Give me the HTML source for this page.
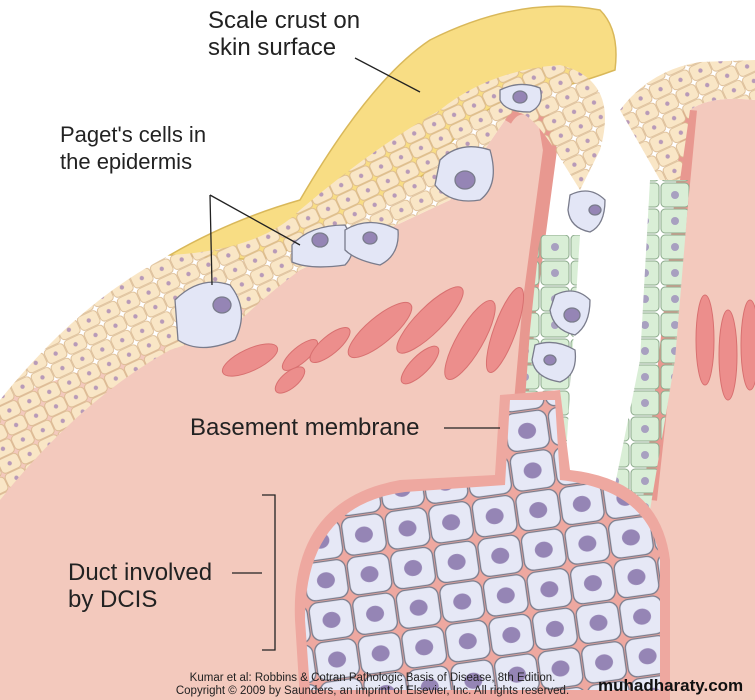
<!DOCTYPE html>
<html><head><style>
body{margin:0;background:#fff;width:755px;height:700px;overflow:hidden;font-family:"Liberation Sans",sans-serif}
.t{position:absolute;font-size:24px;color:#222;line-height:27px}
</style></head><body>
<svg width="755" height="700" style="position:absolute;left:0;top:0">
<defs>
<pattern id="cells" width="44" height="40" patternUnits="userSpaceOnUse" patternTransform="rotate(-8)">
<rect x="1" y="1" width="42" height="38" rx="9" fill="#e6e8f6" stroke="#7a7c8c" stroke-width="1.3"/>
<ellipse cx="22" cy="20" rx="9" ry="8" fill="#9585b5"/>
</pattern>
<pattern id="epi" width="22" height="16" patternUnits="userSpaceOnUse" patternTransform="rotate(-25)">
<rect x="0.5" y="0.5" width="21" height="15" rx="4" fill="#f9e6c6" stroke="#d8b68c" stroke-width="0.8"/>
<circle cx="11" cy="8" r="2.2" fill="#b89ab8"/>
</pattern>
<pattern id="grn" width="30" height="26" patternUnits="userSpaceOnUse">
<rect x="1" y="1" width="28" height="24" rx="4" fill="#d9eed6" stroke="#8aa88a" stroke-width="1"/>
<circle cx="15" cy="13" r="4" fill="#a8a0c0"/>
</pattern>
</defs>
<path d="M0 400 L170 340 L300 270 L450 200 L505 120 Q520 95 545 120 L550 150 L530 300 L515 470 L505 700 L0 700Z" fill="#f3c9bd"/>
<path d="M505 120 Q520 95 545 120 L550 150 L530 300 L515 470 L500 520" fill="none" stroke="#e89890" stroke-width="14"/>
<path d="M690 110 Q710 95 755 100 L755 700 L650 700 L650 500 L672 300 Z" fill="#f3c9bd"/>
<path d="M690 110 L672 300 L650 500" fill="none" stroke="#e89890" stroke-width="14"/>
<path d="M170 255 Q230 220 300 200 Q370 80 430 40 Q520 -5 600 10 Q620 30 615 70 Q560 90 520 95 Q470 110 430 170 Q350 230 260 260 Z" fill="#f8dd84" stroke="#d9b85a" stroke-width="1.5"/>
<path d="M0 400 Q80 300 170 255 Q260 250 300 210 Q370 150 440 110 Q490 70 560 65 Q620 80 600 150 L580 190 L555 150 Q520 95 505 120 L450 200 L300 270 Q260 300 230 330 L170 350 Q80 400 0 500 Z" fill="url(#epi)"/>
<path d="M620 110 Q650 70 700 62 L755 60 L755 100 Q710 95 690 110 L680 180 L660 180 Z" fill="url(#epi)"/>
<g fill="#ec8e8c" stroke="#d87070" stroke-width="1">
<ellipse cx="250" cy="360" rx="30" ry="11" transform="rotate(-25 250 360)"/>
<ellipse cx="300" cy="355" rx="22" ry="8" transform="rotate(-40 300 355)"/>
<ellipse cx="330" cy="345" rx="25" ry="9" transform="rotate(-40 330 345)"/>
<ellipse cx="380" cy="330" rx="40" ry="13" transform="rotate(-40 380 330)"/>
<ellipse cx="430" cy="320" rx="45" ry="13" transform="rotate(-45 430 320)"/>
<ellipse cx="470" cy="340" rx="45" ry="13" transform="rotate(-60 470 340)"/>
<ellipse cx="505" cy="330" rx="45" ry="11" transform="rotate(-70 505 330)"/>
<ellipse cx="290" cy="380" rx="18" ry="8" transform="rotate(-40 290 380)"/>
<ellipse cx="420" cy="365" rx="25" ry="9" transform="rotate(-45 420 365)"/>
<ellipse cx="705" cy="340" rx="9" ry="45"/><ellipse cx="728" cy="355" rx="9" ry="45"/><ellipse cx="750" cy="345" rx="9" ry="45"/>
</g>
<path d="M540 235 L580 235 L565 470 L520 470 L530 330Z" fill="url(#grn)"/>
<path d="M650 180 L690 180 L675 360 L650 510 L610 510 L640 360Z" fill="url(#grn)"/>
<path d="M295 620 Q290 500 400 480 L495 475 L500 395 L560 390 L570 470 Q660 480 670 560 L670 700 L300 700Z" fill="#eea8a0"/>
<path d="M305 620 Q305 505 405 492 L505 485 L510 400 L555 400 L560 480 Q650 490 660 560 L660 690 L310 690Z" fill="url(#cells)"/>
<g fill="#e3e6f6" stroke="#7a7c8c" stroke-width="1.3">
<path d="M175 300 Q200 275 230 285 Q250 310 235 340 Q200 355 178 340Z"/><ellipse cx="222" cy="305" rx="9" ry="8" fill="#9585b5"/>
<path d="M292 245 Q310 225 345 225 Q360 250 345 265 Q310 270 292 262Z"/><ellipse cx="320" cy="240" rx="8" ry="7" fill="#9585b5"/>
<path d="M345 230 Q370 215 398 230 Q400 255 380 265 Q355 260 345 250Z"/><ellipse cx="370" cy="238" rx="7" ry="6" fill="#9585b5"/>
<path d="M440 160 Q460 140 490 150 Q500 185 480 200 Q450 205 435 185Z"/><ellipse cx="465" cy="180" rx="10" ry="9" fill="#9585b5"/>
<path d="M500 90 Q520 80 540 88 Q545 105 530 112 Q505 112 500 100Z"/><ellipse cx="520" cy="97" rx="7" ry="6" fill="#9585b5"/>
<path d="M570 195 Q590 185 605 200 Q605 225 590 232 Q570 228 568 210Z"/><ellipse cx="595" cy="210" rx="6" ry="5" fill="#9585b5"/>
<path d="M555 295 Q575 285 590 300 Q590 325 575 335 Q553 330 550 310Z"/><ellipse cx="572" cy="315" rx="8" ry="7" fill="#9585b5"/>
<path d="M535 345 Q555 338 575 350 Q578 375 560 382 Q535 378 532 360Z"/><ellipse cx="550" cy="360" rx="6" ry="5" fill="#9585b5"/>
</g>
<g stroke="#222" stroke-width="1.3" fill="none">
<path d="M355 58 L420 92"/>
<path d="M210 195 L212 285 M210 195 L300 245"/>
<path d="M444 428 L500 428"/>
<path d="M262 495 L275 495 L275 650 L262 650 M232 573 L262 573"/>
</g>
</svg>
<div class="t" style="left:208px;top:7px">Scale crust on<br>skin surface</div>
<div class="t" style="left:60px;top:121px;font-size:22px">Paget's cells in<br>the epidermis</div>
<div class="t" style="left:190px;top:414px">Basement membrane</div>
<div class="t" style="left:68px;top:559px">Duct involved<br>by DCIS</div>
<div style="position:absolute;left:150px;top:672px;font-size:11.5px;line-height:13px;color:#222;text-align:center;width:445px">Kumar et al: Robbins &amp; Cotran Pathologic Basis of Disease, 8th Edition.<br>Copyright © 2009 by Saunders, an imprint of Elsevier, Inc. All rights reserved.</div>
<div style="position:absolute;left:598px;top:676px;font-size:17px;font-weight:bold;color:#111;font-family:'Liberation Sans',sans-serif">muhadharaty.com</div>
</body></html>
